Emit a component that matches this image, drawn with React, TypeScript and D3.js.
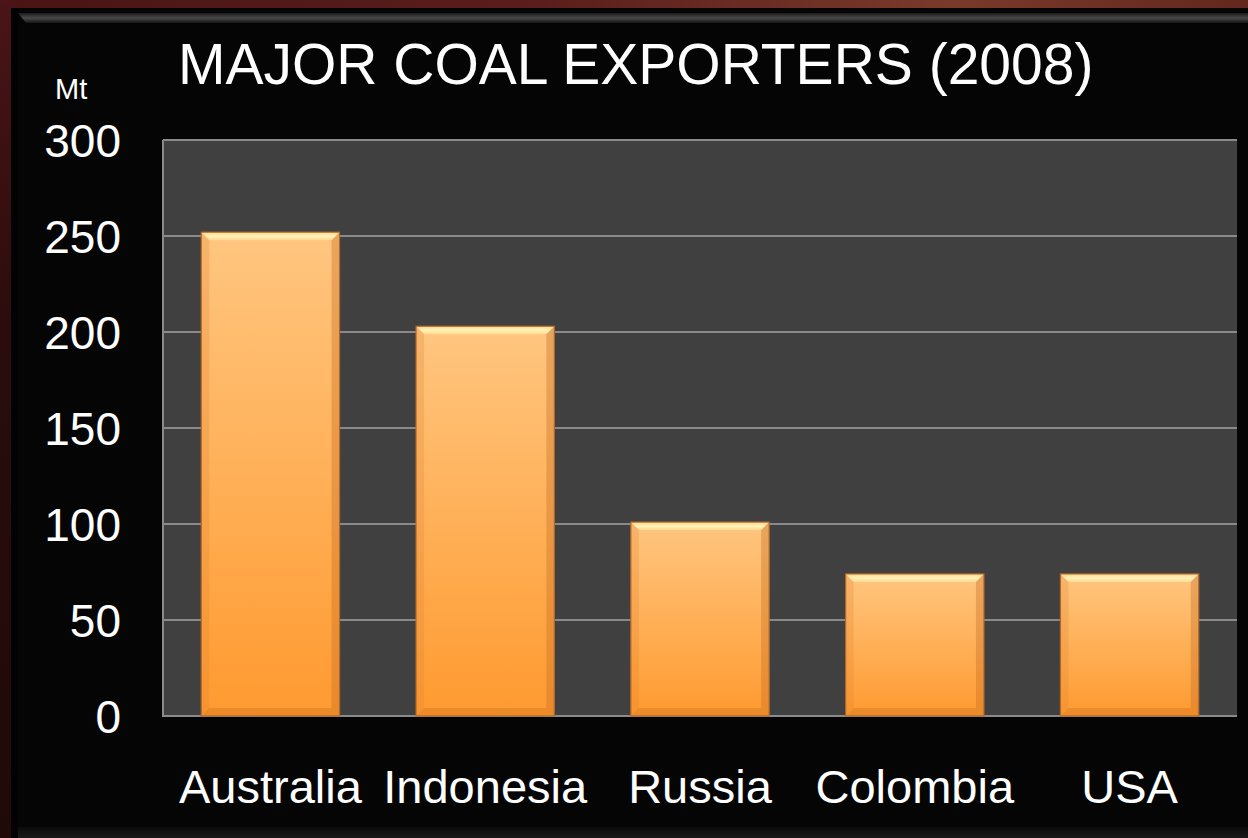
import React from "react";
import * as d3 from "d3";

const categories = ["Australia", "Indonesia", "Russia", "Colombia", "USA"];
const values = [252, 203, 101, 74, 74];
const yTicks = [0, 50, 100, 150, 200, 250, 300];
const title = "MAJOR COAL EXPORTERS (2008)";
const unit = "Mt";

const W = 1248;
const H = 838;
const plot = { left: 163, right: 1237, top: 140, bottom: 716 };
const FONT = "'Liberation Sans', Arial, sans-serif";

export default function App() {
  const x = d3
    .scaleBand<string>()
    .domain(categories)
    .range([plot.left, plot.right])
    .paddingInner(0.356)
    .paddingOuter(0.178);
  const y = d3.scaleLinear().domain([0, 300]).range([plot.bottom, plot.top]);
  const bw = x.bandwidth();
  const bev = 8;

  return (
    <div style={{ position: "fixed", left: 0, top: 0, width: W, height: H }}>
      <svg width={W} height={H} viewBox={`0 0 ${W} ${H}`} style={{ display: "block" }}>
        <defs>
          <linearGradient id="bgRed" x1="0" y1="0" x2="1" y2="0.3">
            <stop offset="0" stopColor="#4a1414" />
            <stop offset="0.4" stopColor="#5a1e1c" />
            <stop offset="0.7" stopColor="#7a3a2a" />
            <stop offset="1" stopColor="#5a2018" />
          </linearGradient>
          <linearGradient id="leftRed" x1="0" y1="0" x2="0" y2="1">
            <stop offset="0" stopColor="#4a1418" />
            <stop offset="0.4" stopColor="#2a0c0c" />
            <stop offset="1" stopColor="#200a08" />
          </linearGradient>
          <linearGradient id="topBevel" x1="0" y1="0" x2="0" y2="1">
            <stop offset="0" stopColor="#1a1a1a" />
            <stop offset="0.5" stopColor="#4a4a4a" />
            <stop offset="1" stopColor="#151515" />
          </linearGradient>
          <linearGradient id="botBevel" x1="0" y1="0" x2="0" y2="1">
            <stop offset="0" stopColor="#0a0a0a" />
            <stop offset="1" stopColor="#1a1a1a" />
          </linearGradient>
          <linearGradient id="barFill" x1="0" y1="0" x2="0" y2="1">
            <stop offset="0" stopColor="#FFC680" />
            <stop offset="1" stopColor="#FF9A30" />
          </linearGradient>
          <linearGradient id="barTop" x1="0" y1="0" x2="0" y2="1">
            <stop offset="0" stopColor="#FFD68F" />
            <stop offset="0.5" stopColor="#FFF2B8" />
            <stop offset="1" stopColor="#FFD890" />
          </linearGradient>
        </defs>
        <rect x={0} y={0} width={W} height={H} fill="url(#bgRed)" />
        <rect x={0} y={0} width={12} height={H} fill="url(#leftRed)" />
        <rect x={11} y={8} width={W - 11} height={H - 8} fill="#050505" />
        <rect x={11} y={8} width={7} height={H - 8} fill="#020202" />
        <polygon points={`18,13 ${W},13 ${W},23 26,23`} fill="url(#topBevel)" />
        <rect x={18} y={827} width={W - 18} height={11} fill="url(#botBevel)" />

        <rect x={plot.left} y={plot.top} width={plot.right - plot.left} height={plot.bottom - plot.top} fill="#404040" />
        {yTicks.map((t) => (
          <line
            key={"g" + t}
            x1={plot.left}
            x2={plot.right}
            y1={y(t)}
            y2={y(t)}
            stroke="#8a8a8a"
            strokeWidth={2}
          />
        ))}
        <line x1={plot.left} x2={plot.left} y1={plot.top} y2={plot.bottom + 1} stroke="#8a8a8a" strokeWidth={2} />

        {categories.map((c, i) => {
          const x0 = x(c)!;
          const x1 = x0 + bw;
          const y0 = y(values[i]);
          const y1 = y(0);
          return (
            <g key={c}>
              <rect x={x0} y={y0} width={bw} height={y1 - y0} fill="url(#barFill)" />
              <polygon
                points={`${x0},${y0} ${x1},${y0} ${x1 - bev},${y0 + bev} ${x0 + bev},${y0 + bev}`}
                fill="url(#barTop)"
              />
              <polygon
                points={`${x0},${y0} ${x0 + bev},${y0 + bev} ${x0 + bev},${y1 - bev} ${x0},${y1}`}
                fill="#E0802A"
                opacity={0.25}
              />
              <polygon
                points={`${x1},${y0} ${x1 - bev},${y0 + bev} ${x1 - bev},${y1 - bev} ${x1},${y1}`}
                fill="#C06A20"
                opacity={0.35}
              />
              <polygon
                points={`${x0},${y1} ${x0 + bev},${y1 - bev} ${x1 - bev},${y1 - bev} ${x1},${y1}`}
                fill="#C86C20"
                opacity={0.35}
              />
              <rect
                x={x0}
                y={y0}
                width={bw}
                height={y1 - y0}
                fill="none"
                stroke="#B0682A"
                strokeWidth={1.2}
              />
            </g>
          );
        })}

        {yTicks.map((t) => (
          <text
            key={"t" + t}
            x={121}
            y={y(t)}
            dy="0.36em"
            textAnchor="end"
            fill="#ffffff"
            fontFamily={FONT}
            fontSize={46}
          >
            {t}
          </text>
        ))}
        {categories.map((c) => (
          <text
            key={"c" + c}
            x={x(c)! + bw / 2}
            y={803}
            textAnchor="middle"
            fill="#ffffff"
            fontFamily={FONT}
            fontSize={47}
          >
            {c}
          </text>
        ))}
        <text x={178} y={84} fill="#ffffff" fontFamily={FONT} fontSize={57}>
          {title}
        </text>
        <text x={55} y={99} fill="#ffffff" fontFamily={FONT} fontSize={29}>
          {unit}
        </text>
      </svg>
    </div>
  );
}
